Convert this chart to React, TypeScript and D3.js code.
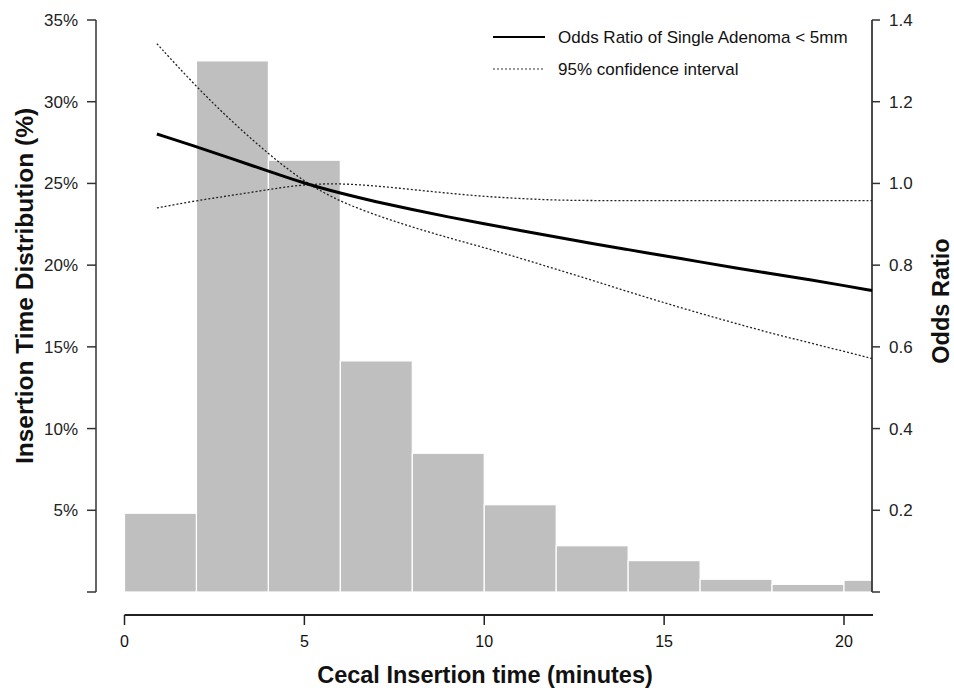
import React from "react";
import * as d3 from "d3";

// ---- data ----
const binStarts = [0, 2, 4, 6, 8, 10, 12, 14, 16, 18, 20];
const binEnds = [2, 4, 6, 8, 10, 12, 14, 16, 18, 20, 20.78];
const binPct = [4.82, 32.5, 26.42, 14.14, 8.49, 5.34, 2.83, 1.92, 0.78, 0.47, 0.72];

const tPoints = [0.9, 2, 3, 4, 5, 6, 7, 8, 9, 10, 11, 12, 13, 14, 15, 16, 17, 18, 19, 20, 20.78];
const oddsRatio = [1.121, 1.09, 1.06, 1.03, 1.0, 0.976, 0.955, 0.936, 0.918, 0.901, 0.885, 0.869, 0.853, 0.838, 0.823, 0.808, 0.793, 0.779, 0.765, 0.75, 0.738];
const ciFirst = [1.342, 1.236, 1.15, 1.072, 1.003, 0.955, 0.922, 0.893, 0.867, 0.843, 0.817, 0.79, 0.763, 0.735, 0.708, 0.682, 0.657, 0.633, 0.611, 0.589, 0.571];
const ciSecond = [0.94, 0.958, 0.971, 0.985, 0.998, 1.0, 0.994, 0.985, 0.976, 0.968, 0.963, 0.959, 0.958, 0.958, 0.958, 0.958, 0.958, 0.958, 0.958, 0.958, 0.958];

const leftTicks = [0, 5, 10, 15, 20, 25, 30, 35];
const rightTicks = [0, 0.2, 0.4, 0.6, 0.8, 1.0, 1.2, 1.4];
const xTicks = [0, 5, 10, 15, 20];

const legendItems = ["Odds Ratio of Single Adenoma < 5mm", "95% confidence interval"];

export default function App() {
  const W = 954, H = 688;
  const x = d3.scaleLinear().domain([0, 20]).range([124.5, 844]);
  const yL = d3.scaleLinear().domain([0, 35]).range([592, 20]);
  const yR = d3.scaleLinear().domain([0, 1.4]).range([592, 20]);
  const xEnd = x.invert(872);

  const line = (vals: number[]) =>
    d3
      .line<number>()
      .x((_, i) => x(tPoints[i]))
      .y((v) => yR(v))
      .curve(d3.curveBasis)(vals) || "";

  const font = "'Liberation Sans', Arial, Helvetica, sans-serif";
  const axisColor = "#333";
  const leftX = 96;
  const rightX = 872;
  const xAxisY = 615;

  return (
    <svg width={W} height={H} style={{ position: "absolute", left: 0, top: 0, background: "#fff" }} fontFamily={font}>
      {/* histogram */}
      <g>
        {binPct.map((p, i) => (
          <rect
            key={i}
            x={x(binStarts[i])}
            y={yL(p)}
            width={x(binEnds[i]) - x(binStarts[i])}
            height={yL(0) - yL(p)}
            fill="#bfbfbf"
            stroke="#fff"
            strokeWidth={1.2}
          />
        ))}
      </g>

      {/* left axis */}
      <g>
        <line x1={leftX} x2={leftX} y1={yL(0)} y2={yL(35)} stroke={axisColor} strokeWidth={1.5} />
        {leftTicks.map((t) => (
          <g key={t}>
            <line x1={leftX - 9} x2={leftX} y1={yL(t)} y2={yL(t)} stroke={axisColor} strokeWidth={1.5} />
            {t > 0 && (
              <text x={78} y={yL(t)} dy="0.35em" textAnchor="end" fontSize={17} fill="#222">
                {t}%
              </text>
            )}
          </g>
        ))}
        <text
          transform={`translate(33,286) rotate(-90)`}
          textAnchor="middle"
          fontSize={24.5}
          fontWeight="bold"
          fill="#111"
        >
          Insertion Time Distribution (%)
        </text>
      </g>

      {/* right axis */}
      <g>
        <line x1={rightX} x2={rightX} y1={yR(0)} y2={yR(1.4)} stroke="#111" strokeWidth={1.5} />
        {rightTicks.map((t) => (
          <g key={t}>
            <line x1={rightX} x2={rightX + 8} y1={yR(t)} y2={yR(t)} stroke={axisColor} strokeWidth={1.5} />
            {t > 0 && (
              <text x={889} y={yR(t)} dy="0.35em" textAnchor="start" fontSize={17} fill="#222">
                {t.toFixed(1)}
              </text>
            )}
          </g>
        ))}
        <text
          transform={`translate(949,301) rotate(-90)`}
          textAnchor="middle"
          fontSize={23.5}
          fontWeight="bold"
          fill="#111"
        >
          Odds Ratio
        </text>
      </g>

      {/* x axis */}
      <g>
        <line x1={x(0)} x2={x(xEnd) + 1} y1={xAxisY} y2={xAxisY} stroke="#222" strokeWidth={2} />
        {xTicks.map((t) => (
          <g key={t}>
            <line x1={x(t)} x2={x(t)} y1={xAxisY} y2={xAxisY + 10} stroke="#222" strokeWidth={1.5} />
            <text x={x(t)} y={647} textAnchor="middle" fontSize={16} fill="#111">
              {t}
            </text>
          </g>
        ))}
        <text x={485} y={683} textAnchor="middle" fontSize={23.5} fontWeight="bold" fill="#111">
          Cecal Insertion time (minutes)
        </text>
      </g>

      {/* curves */}
      <path d={line(ciFirst)} fill="none" stroke="#222" strokeWidth={1.3} strokeDasharray="2,2" />
      <path d={line(ciSecond)} fill="none" stroke="#222" strokeWidth={1.3} strokeDasharray="2,2" />
      <path d={line(oddsRatio)} fill="none" stroke="#000" strokeWidth={3} />

      {/* legend */}
      <g>
        <line x1={493} x2={545} y1={37} y2={37} stroke="#000" strokeWidth={2} />
        <text x={558} y={37} dy="0.35em" fontSize={17} fill="#111">
          {legendItems[0]}
        </text>
        <line x1={493} x2={545} y1={69} y2={69} stroke="#333" strokeWidth={1} strokeDasharray="2,2" />
        <text x={558} y={69} dy="0.35em" fontSize={17} fill="#111">
          {legendItems[1]}
        </text>
      </g>
    </svg>
  );
}
